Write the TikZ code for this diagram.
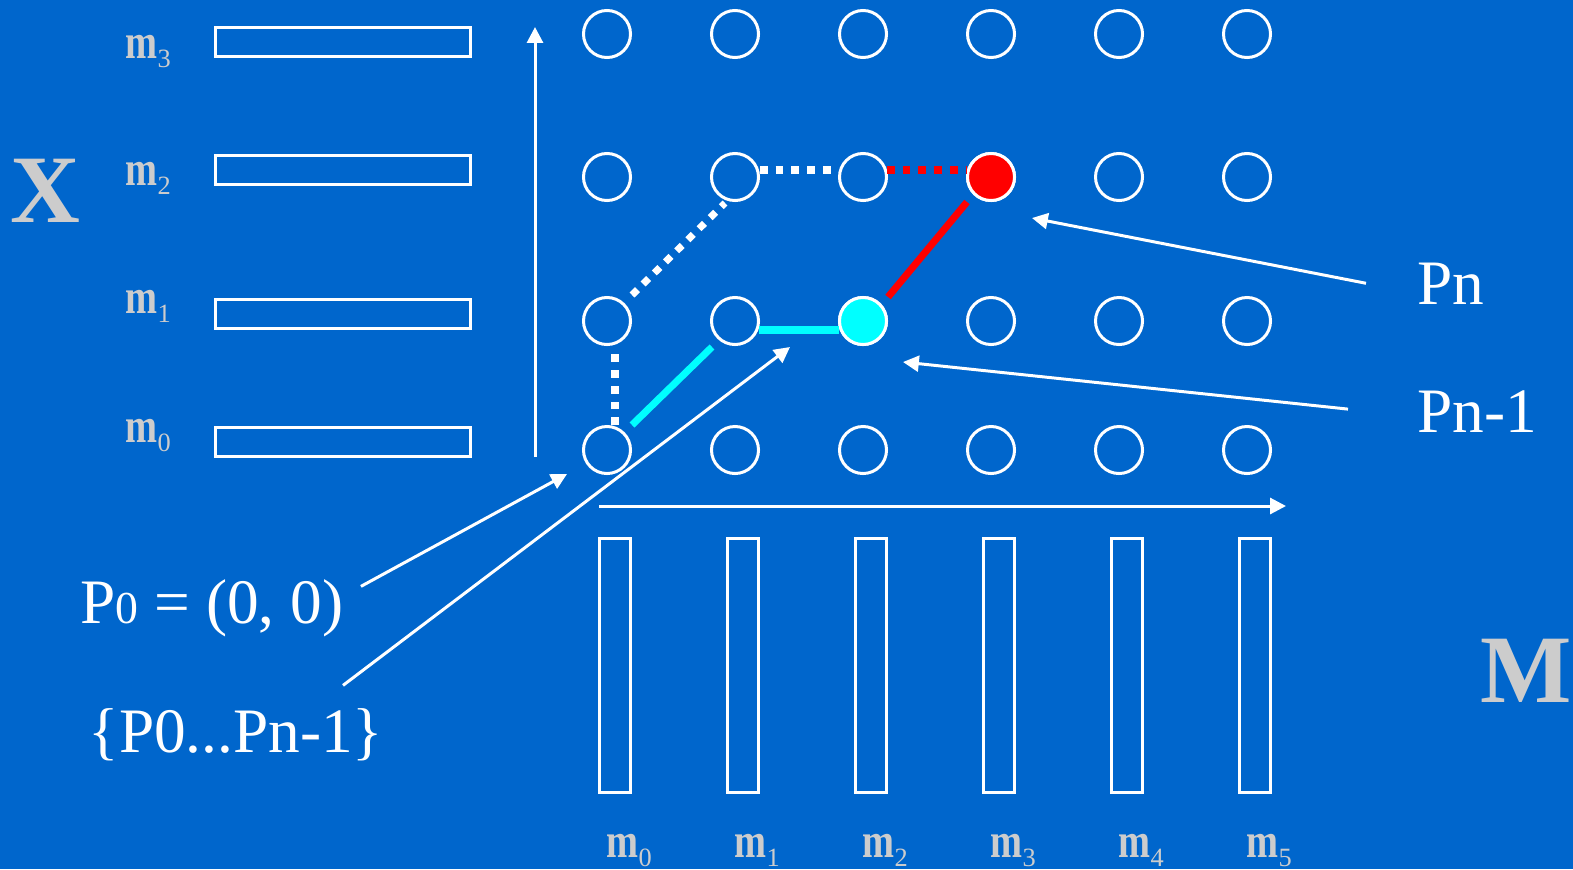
\documentclass[tikz,border=0pt]{standalone}
\usepackage{fontspec}
\setmainfont{Liberation Serif}
\usetikzlibrary{arrows.meta,calc}
\definecolor{slide}{RGB}{0,102,204}
\definecolor{lbl}{RGB}{204,204,204}
\definecolor{hot}{RGB}{255,0,0}
\definecolor{cold}{RGB}{0,255,255}
\newcommand{\mlab}[1]{\scalebox{0.78}[1]{\bfseries m}\raisebox{-2.6pt}{\fontsize{7.5}{7.5}\selectfont #1}}
\tikzset{
  cell/.style={circle, draw=white, line width=0.85pt, minimum size=0.47cm, inner sep=0pt},
  hbar/.style={rectangle, draw=white, line width=0.85pt, minimum width=2.55cm, minimum height=0.29cm, inner sep=0pt},
  vbar/.style={rectangle, draw=white, line width=0.85pt, minimum width=0.31cm, minimum height=2.54cm, inner sep=0pt},
  axis/.style={-{Triangle[length=4.5pt,width=4.5pt]}, draw=white, line width=0.85pt},
  mtag/.style={text=lbl, font=\fontsize{14}{14}\selectfont, inner sep=0pt, anchor=base west},
  ptag/.style={text=white, font=\fontsize{18}{18}\selectfont, inner sep=0pt, anchor=base west},
  bigtag/.style={text=lbl, font=\fontsize{27.5}{27.5}\selectfont\bfseries, inner sep=0pt, anchor=base west},
  walk/.style={line width=2pt},
  dots/.style={walk, dash pattern=on 0.077cm off 0.08cm},
}

\begin{document}
\begin{tikzpicture}[x=0.01cm, y=-0.01cm]
  \fill[slide] (0,0) rectangle (1573,869);

  % X side: memory rows
  \node[bigtag] (tagX) at (10,222) {X};
  \foreach \r/\y/\b in {0/442/442, 1/314/313, 2/170/185, 3/42/58} {
    \node[mtag] (xm\r) at (125,\b) {\mlab{\r}};
    \node[hbar] (xbar\r) at (343,\y) {};
  }

  % M side: memory columns
  \node[bigtag] (tagM) at (1480,702) {M};
  \foreach \c/\x in {0/607, 1/735, 2/863, 3/991, 4/1119, 5/1247} {
    \node[vbar] (mbar\c) at (\x+8,665.5) {};
    \node[mtag] (mm\c) at (\x-1,857) {\mlab{\c}};
  }

  % axes
  \coordinate (yfrom) at (535,457);
  \coordinate (yto) at (535,27);
  \coordinate (xfrom) at (599,506);
  \coordinate (xto) at (1286,506);
  \draw[axis] (yfrom) -- (yto);
  \draw[axis] (xfrom) -- (xto);

  % grid of states
  \foreach \c/\x in {0/607, 1/735, 2/863, 3/991, 4/1119, 5/1247}
    \foreach \r/\y in {0/450, 1/321, 2/177, 3/34}
      \node[cell] (c\c\r) at (\x,\y) {};
  \node[cell, fill=cold] at (c21) {};
  \node[cell, fill=hot] at (c32) {};

  % paths
  \draw[dots, white] ($(c00)+(8,-25)$) -- ($(c01)+(8,26)$);
  \draw[dots, white] ($(c01)+(25,-26)$) -- ($(c12)+(-10,26)$);
  \draw[dots, white] ($(c12)+(25,-7)$) -- ($(c22)+(-25,-7)$);
  \draw[dots, hot] ($(c22)+(24,-7)$) -- ($(c32)+(-24,-7)$);
  \draw[walk, hot] ($(c21)+(25,-24)$) -- ($(c32)+(-24,25)$);
  \draw[walk, cold] ($(c11)+(24,9)$) -- ($(c21)+(-24,9)$);
  \draw[walk, cold] ($(c00)+(25,-25)$) -- ($(c11)+(-23,26)$);

  % labels and pointers
  \node[ptag] (lblP0) at (80,623) {P{\fontsize{13}{13}\selectfont 0} = (0, 0)};
  \node[ptag] (lblPs) at (88,752) {\{P0...Pn-1\}};
  \node[ptag] (lblPn) at (1417,304) {Pn};
  \node[ptag] (lblPm) at (1417,432) {Pn-1};
  \coordinate (atP0) at (567,474);
  \coordinate (atPs) at (790,347);
  \coordinate (atPn) at (1032,218);
  \coordinate (atPm) at (903,362);
  \draw[axis] ($(lblP0.north east)+(17,8)$) -- (atP0);
  \draw[axis] ($(lblPs.north west)+(255,-22)$) -- (atPs);
  \draw[axis] ($(lblPn.west)+(-51,0)$) -- (atPn);
  \draw[axis] ($(lblPm.west)+(-69,-2)$) -- (atPm);
\end{tikzpicture}
\end{document}
